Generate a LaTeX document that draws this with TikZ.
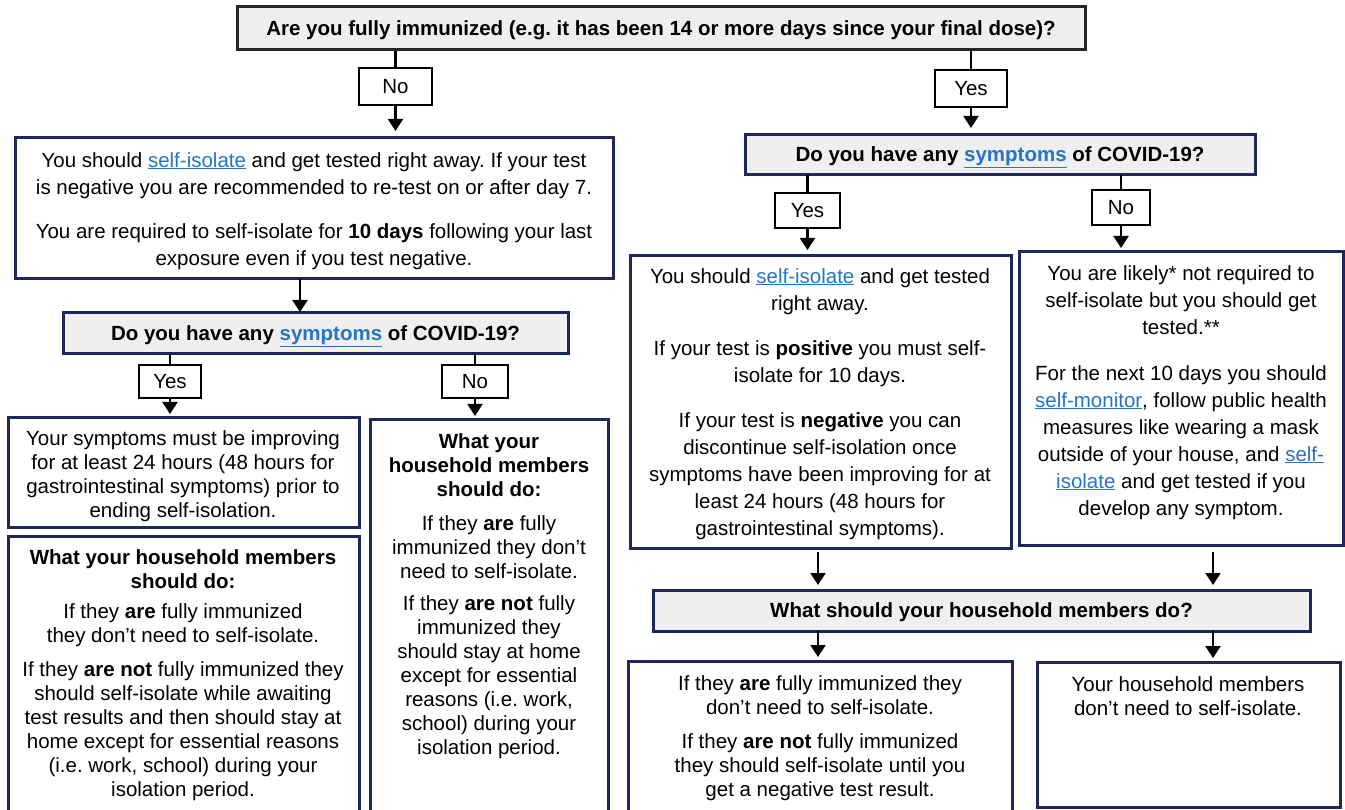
\documentclass[tikz,border=0pt]{standalone}
\usepackage{fontspec}
\setmainfont{Liberation Sans}
\usetikzlibrary{arrows.meta,fit}
\definecolor{navy}{RGB}{28,40,92}
\definecolor{qgray}{RGB}{239,239,239}
\definecolor{linkblue}{RGB}{38,118,196}
\newcommand{\lnk}[1]{\textcolor{linkblue}{\underline{#1}}}
\frenchspacing
\begin{document}
\begin{tikzpicture}[x=1pt,y=-1pt,
  box/.style={draw=navy,line width=3pt,fill=white,inner sep=0pt,outer sep=0pt},
  qbox/.style={box,fill=qgray},
  topbox/.style={draw=black!85,line width=3pt,fill=qgray,inner sep=0pt},
  lbl/.style={draw=black,line width=1.3pt,fill=white,inner sep=0pt},
  ctxt/.style={inner sep=0pt,anchor=base,yshift=-7pt,font=\fontsize{20.5}{24}\selectfont},
  qtxt/.style={ctxt,font=\bfseries\fontsize{20.5}{24}\selectfont},
  txt/.style={align=center,inner sep=0pt,anchor=north,font=\fontsize{20.5}{27}\selectfont},
  stxt/.style={align=center,inner sep=0pt,anchor=north,font=\fontsize{20.5}{24}\selectfont},
  conn/.style={line width=2.2pt},
  arr/.style={line width=2.2pt,-{Triangle[width=15pt,length=12pt]}},
]
\useasboundingbox (0,0) rectangle (1345,810);
\clip (0,0) rectangle (1345,810);
% ---------- top ----------
\node[topbox,fit={(237,7)(1085,50)}] (top) {};
\node[qtxt] (topt) at (top) {Are you fully immunized (e.g. it has been 14 or more days since your final dose)?};
\node[lbl,fit={(359,68)(432,105)}] (no1) {};
\node[ctxt] (no1t) at (no1) {No};
\node[lbl,fit={(935,70)(1007,107)}] (yes1) {};
\node[ctxt] (yes1t) at (yes1) {Yes};
% ---------- left column ----------
\node[box,fit={(15,138)(613,279)}] (A) {};
\node[txt] (tA) at (314,152) {You should \lnk{self-isolate} and get tested right away. If your test\\
is negative you are recommended to re-test on or after day 7.\\[17pt]
You are required to self-isolate for \textbf{10 days} following your last\\
exposure even if you test negative.};
\node[qbox,fit={(63,313)(568,354)}] (B) {};
\node[qtxt] (Bt) at (B) {Do you have any \lnk{symptoms} of COVID-19?};
\node[lbl,fit={(139,365)(201,398)}] (yesL) {};
\node[ctxt] (yesLt) at (yesL) {Yes};
\node[lbl,fit={(442,365)(508,398)}] (noL) {};
\node[ctxt] (noLt) at (noL) {No};
\node[box,fit={(8,418)(359,527)}] (C) {};
\node[stxt] (tC) at (183,430) {Your symptoms must be improving\\
for at least 24 hours (48 hours for\\
gastrointestinal symptoms) prior to\\
ending self-isolation.};
\node[box,fit={(8,536)(359,830)}] (E) {};
\node[stxt] (tE) at (183,549) {\textbf{What your household members}\\
\textbf{should do:}\\[6pt]
If they \textbf{are} fully immunized\\
they don’t need to self-isolate.\\[10pt]
If they \textbf{are not} fully immunized they\\
should self-isolate while awaiting\\
test results and then should stay at\\
home except for essential reasons\\
(i.e. work, school) during your\\
isolation period.};
\node[box,fit={(370,420)(608,830)}] (D) {};
\node[stxt] (tD) at (489,433) {\textbf{What your}\\
\textbf{household members}\\
\textbf{should do:}\\[10pt]
If they \textbf{are} fully\\
immunized they don’t\\
need to self-isolate.\\[8pt]
If they \textbf{are not} fully\\
immunized they\\
should stay at home\\
except for essential\\
reasons (i.e. work,\\
school) during your\\
isolation period.};
% ---------- right column ----------
\node[qbox,fit={(745,135)(1255,175)}] (F) {};
\node[qtxt] (Ft) at (F) {Do you have any \lnk{symptoms} of COVID-19?};
\node[lbl,fit={(775,193)(840,228)}] (yesR) {};
\node[ctxt] (yesRt) at (yesR) {Yes};
\node[lbl,fit={(1092,190)(1150,225)}] (noR) {};
\node[ctxt] (noRt) at (noR) {No};
\node[box,fit={(630,256)(1011,548)}] (G) {};
\node[txt] (tG) at (820,268) {You should \lnk{self-isolate} and get tested\\
right away.\\[18pt]
If your test is \textbf{positive} you must self-\\
isolate for 10 days.\\[18pt]
If your test is \textbf{negative} you can\\
discontinue self-isolation once\\
symptoms have been improving for at\\
least 24 hours (48 hours for\\
gastrointestinal symptoms).};
\node[box,fit={(1019,252)(1343,545)}] (H) {};
\node[txt] (tH) at (1181,265) {You are likely* not required to\\
self-isolate but you should get\\
tested.**\\[19pt]
For the next 10 days you should\\
\lnk{self-monitor}, follow public health\\
measures like wearing a mask\\
outside of your house, and \lnk{self-}\\
\lnk{isolate} and get tested if you\\
develop any symptom.};
\node[qbox,fit={(653,590)(1310,631)}] (I) {};
\node[qtxt] (It) at (I) {What should your household members do?};
\node[box,fit={(628,661)(1012,830)}] (J) {};
\node[stxt] (tJ) at (820,675) {If they \textbf{are} fully immunized they\\
don’t need to self-isolate.\\[10pt]
If they \textbf{are not} fully immunized\\
they should self-isolate until you\\
get a negative test result.};
\node[box,fit={(1037,662)(1340,807)}] (K) {};
\node[stxt] (tK) at (1188,676) {Your household members\\
don’t need to self-isolate.};
% ---------- helper x positions ----------
\coordinate (xAB) at (300,0);
\coordinate (xGI) at (818,0);
\coordinate (xHI) at (1213,0);
% ---------- connectors ----------
\draw[conn] (top.south -| no1) -- (no1.north);
\draw[arr,shorten >=7pt] (no1.south) -- (A.north -| no1);
\draw[conn] (top.south -| yes1) -- (yes1.north);
\draw[arr,shorten >=7pt] (yes1.south) -- (F.north -| yes1);
\draw[arr,shorten >=1pt] (A.south -| xAB) -- (B.north -| xAB);
\draw[conn] (B.south -| yesL) -- (yesL.north);
\draw[arr,shorten >=4pt] (yesL.south) -- (C.north -| yesL);
\draw[conn] (B.south -| noL) -- (noL.north);
\draw[arr,shorten >=4pt] (noL.south) -- (D.north -| noL);
\draw[conn] (F.south -| yesR) -- (yesR.north);
\draw[arr,shorten >=6pt] (yesR.south) -- (G.north -| yesR);
\draw[conn] (F.south -| noR) -- (noR.north);
\draw[arr,shorten >=4pt] (noR.south) -- (H.north -| noR);
\draw[arr,shorten <=4pt,shorten >=5pt] (G.south -| xGI) -- (I.north -| xGI);
\draw[arr,shorten <=7pt,shorten >=5pt] (H.south -| xHI) -- (I.north -| xHI);
\draw[arr,shorten >=4pt] (I.south -| xGI) -- (J.north -| xGI);
\draw[arr,shorten >=4pt] (I.south -| xHI) -- (K.north -| xHI);
\end{tikzpicture}
\end{document}
